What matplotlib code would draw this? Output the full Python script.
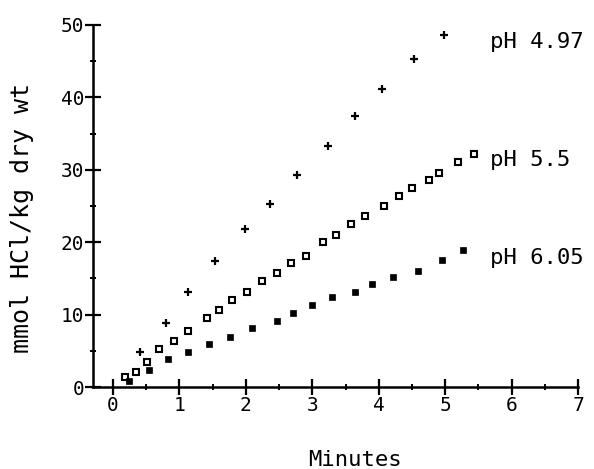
import matplotlib
matplotlib.use('Agg')
import matplotlib.pyplot as plt
from matplotlib.ticker import MultipleLocator

# pH 4.97 (plus markers)
t_497 = [0.41, 0.80, 1.13, 1.54, 1.99, 2.36, 2.77, 3.24, 3.64, 4.05, 4.53, 4.98]
hcl_497 = [4.8, 8.8, 13.1, 17.4, 21.8, 25.3, 29.3, 33.3, 37.4, 41.2, 45.3, 48.6]

# pH 5.5 (open squares)
t_55 = [0.18, 0.35, 0.51, 0.69, 0.92, 1.13, 1.42, 1.60, 1.79, 2.02, 2.24, 2.47, 2.68,
        2.91, 3.16, 3.36, 3.58, 3.80, 4.08, 4.31, 4.50, 4.76, 4.91, 5.20, 5.44]
hcl_55 = [1.4, 2.1, 3.5, 5.2, 6.4, 7.7, 9.5, 10.6, 12.0, 13.1, 14.6, 15.7, 17.1,
          18.1, 20.0, 21.0, 22.5, 23.6, 25.0, 26.4, 27.5, 28.6, 29.6, 31.1, 32.2]

# pH 6.05 (filled squares)
t_605 = [0.24, 0.54, 0.83, 1.13, 1.45, 1.76, 2.09, 2.47, 2.71, 3.00, 3.30, 3.64,
         3.90, 4.22, 4.59, 4.95, 5.27]
hcl_605 = [0.8, 2.3, 3.9, 4.8, 5.9, 6.9, 8.1, 9.1, 10.2, 11.3, 12.4, 13.1,
           14.2, 15.2, 16.0, 17.5, 18.9]

labels = ['pH 4.97', 'pH 5.5', 'pH 6.05']
label_y = [47.7, 31.4, 17.8]

plt.rcParams['font.family'] = ['DejaVu Sans Mono']

fig = plt.figure(figsize=(5.94, 4.69), dpi=100)
ax = fig.add_axes([0.1567, 0.1748, 0.8164, 0.7719])

ax.plot(t_497, hcl_497, linestyle='none', marker='+', ms=6, mew=1.6, color='black', clip_on=False)
ax.plot(t_55, hcl_55, linestyle='none', marker='s', ms=4.3, mew=1.5, mfc='white', mec='black', clip_on=False)
ax.plot(t_605, hcl_605, linestyle='none', marker='s', ms=5, mew=0.5, color='black', clip_on=False)

for lab, yy in zip(labels, label_y):
    ax.text(5.68, yy, lab, fontsize=16, va='center', ha='left')

ax.set_xlim(-0.3, 7)
ax.set_ylim(0, 50)
ax.spines['top'].set_visible(False)
ax.spines['right'].set_visible(False)
ax.spines['left'].set_linewidth(1.8)
ax.spines['bottom'].set_linewidth(1.8)

ax.xaxis.set_major_locator(MultipleLocator(1))
ax.xaxis.set_minor_locator(MultipleLocator(0.5))
ax.yaxis.set_major_locator(MultipleLocator(10))
ax.yaxis.set_minor_locator(MultipleLocator(5))
ax.tick_params(which='major', direction='inout', length=11, width=1.6, labelsize=14, pad=1)
ax.tick_params(which='minor', direction='inout', length=5, width=1.4)

ax.set_xticks(range(8))
ax.set_yticks(range(0, 51, 10))

fig.text(355 / 594, 1 - 460 / 469, 'Minutes', fontsize=16, ha='center', va='center')
fig.text(22 / 594, 1 - 218 / 469, 'mmol HCl/kg dry wt', fontsize=18, ha='center', va='center', rotation=90)

fig.savefig('out.png', dpi=100)
